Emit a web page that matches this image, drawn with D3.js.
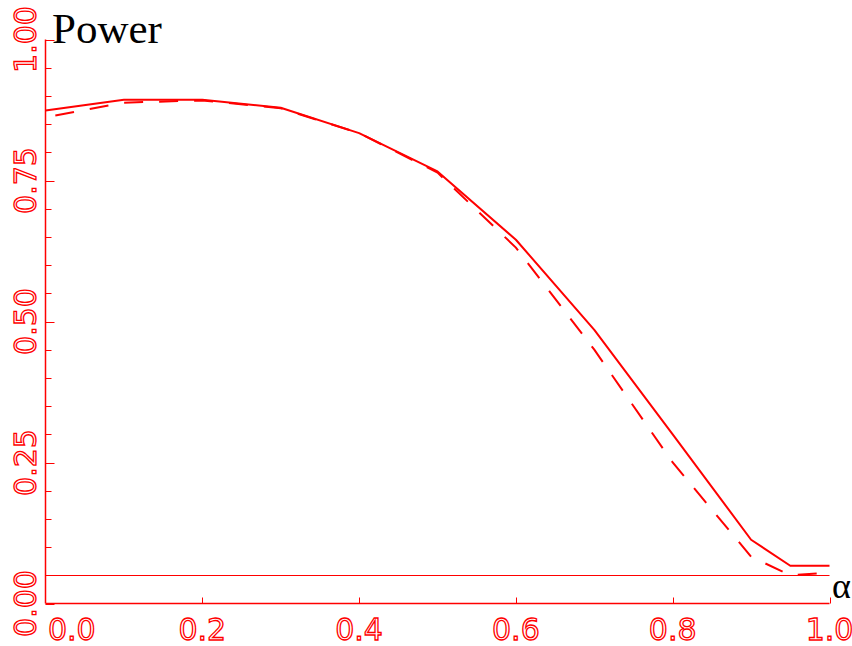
<!DOCTYPE html>
<html>
<head>
<meta charset="utf-8">
<script src="https://cdn.jsdelivr.net/npm/d3@7"></script>
<style>
  html, body { margin: 0; padding: 0; background: #fff; }
  svg { display: block; }
</style>
</head>
<body>
<script>
// ---- data ----
const alphaValues = [0, 0.1, 0.2, 0.3, 0.4, 0.5, 0.6, 0.7, 0.8, 0.9, 0.95, 1.0];
const powerSolid  = [0.874, 0.893, 0.893, 0.879, 0.834, 0.766, 0.645, 0.485, 0.300, 0.113, 0.067, 0.067];
const powerDashed = [0.862, 0.888, 0.892, 0.878, 0.834, 0.764, 0.631, 0.450, 0.250, 0.083, 0.050, 0.055];
const referenceLevel = 0.05;
const xTickValues = [0, 0.2, 0.4, 0.6, 0.8, 1.0];
const xTickLabels = ["0.0", "0.2", "0.4", "0.6", "0.8", "1.0"];
const yTickValues = [0, 0.25, 0.5, 0.75, 1.0];
const yTickLabels = ["0.00", "0.25", "0.50", "0.75", "1.00"];
const titleText = "Power";
const xAxisTitle = "α";

// ---- layout ----
const W = 852, H = 646;
const RED = "#ff0000";
const svg = d3.select("body").append("svg").attr("width", W).attr("height", H);

const x = d3.scaleLinear().domain([0, 1]).range([45.5, 829.5]);
const y = d3.scaleLinear().domain([0, 1]).range([603.5, 39.5]);

// axes lines
svg.append("line").attr("x1", x(0)).attr("x2", x(0)).attr("y1", y(0)).attr("y2", y(1))
  .attr("stroke", RED).attr("stroke-width", 1.5);
svg.append("line").attr("x1", x(0)).attr("x2", x(1)).attr("y1", y(0)).attr("y2", y(0))
  .attr("stroke", RED).attr("stroke-width", 1.5);

// y ticks (minor every 0.05, major at 0.25)
const yMinor = y.ticks(20);
svg.append("g").selectAll("line").data(yMinor).join("line")
  .attr("x1", x(0))
  .attr("x2", d => x(0) + (Math.abs(d * 4 - Math.round(d * 4)) < 1e-6 ? 9 : 6))
  .attr("y1", d => Math.round(y(d)) + 0.5)
  .attr("y2", d => Math.round(y(d)) + 0.5)
  .attr("stroke", RED).attr("stroke-width", 1);

// x ticks
svg.append("g").selectAll("line").data(xTickValues.slice(1)).join("line")
  .attr("x1", d => Math.round(x(d)) + 0.5).attr("x2", d => Math.round(x(d)) + 0.5)
  .attr("y1", y(0)).attr("y2", y(0) - 6)
  .attr("stroke", RED).attr("stroke-width", 1);

// reference line
svg.append("line").attr("x1", x(0)).attr("x2", x(1))
  .attr("y1", Math.round(y(referenceLevel)) + 0.5).attr("y2", Math.round(y(referenceLevel)) + 0.5)
  .attr("stroke", RED).attr("stroke-width", 1);

// x tick labels
svg.append("g").selectAll("text").data(xTickValues).join("text")
  .attr("x", (d, i) => i === 0 ? 48 : x(d))
  .attr("y", 640)
  .attr("text-anchor", (d, i) => i === 0 ? "start" : "middle")
  .attr("font-family", "DejaVu Sans")
  .attr("font-size", 30)
  .attr("fill", "none")
  .attr("stroke", RED)
  .attr("stroke-width", 1.3)
  .text((d, i) => xTickLabels[i]);

// y tick labels (rotated)
svg.append("g").selectAll("text").data(yTickValues).join("text")
  .attr("transform", d => `translate(36,${y(d)}) rotate(-90)`)
  .attr("text-anchor", "middle")
  .attr("font-family", "DejaVu Sans")
  .attr("font-size", 30)
  .attr("fill", "none")
  .attr("stroke", RED)
  .attr("stroke-width", 1.3)
  .text((d, i) => yTickLabels[i]);

// series
const lineGen = vals => d3.line().x((d, i) => x(alphaValues[i])).y(d => y(d))(vals);
svg.append("path").attr("d", lineGen(powerSolid))
  .attr("fill", "none").attr("stroke", RED).attr("stroke-width", 2)
  .attr("stroke-linejoin", "round");
svg.append("path").attr("d", lineGen(powerDashed))
  .attr("fill", "none").attr("stroke", RED).attr("stroke-width", 2)
  .attr("stroke-dasharray", "19,16").attr("stroke-dashoffset", 25);

// titles
svg.append("text").attr("x", 52).attr("y", 43)
  .attr("font-family", "Liberation Serif").attr("font-size", 43)
  .attr("fill", "#000").text(titleText);
svg.append("text").attr("x", 832).attr("y", 598)
  .attr("font-family", "Liberation Serif").attr("font-size", 36)
  .attr("fill", "#000").text(xAxisTitle);
</script>
</body>
</html>
